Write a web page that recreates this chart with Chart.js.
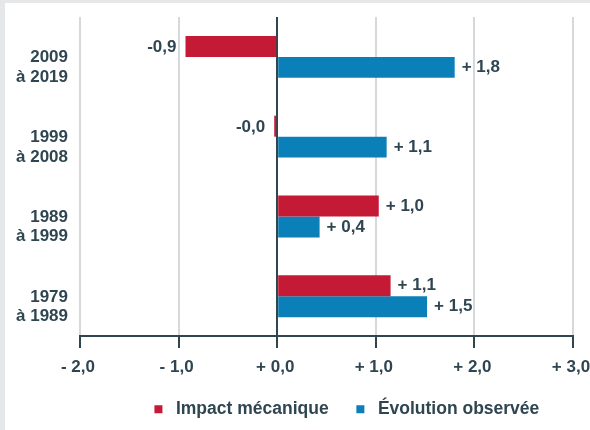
<!DOCTYPE html>
<html>
<head>
<meta charset="utf-8">
<script src="https://cdn.jsdelivr.net/npm/chart.js@4"></script>
<style>
  body { margin: 0; background: #e6e7e9; }
  #wrap { position: absolute; left: 5px; top: 3px; width: 585px; height: 427px; background: #fff; }
</style>
</head>
<body>
<div id="wrap"><canvas id="chart"></canvas></div>
<script>
// Categories, top to bottom
const periods = [['2009', 'à 2019'], ['1999', 'à 2008'], ['1989', 'à 1999'], ['1979', 'à 1989']]
// Series values
const impactMecanique = [-0.93, -0.03, 1.03, 1.15]
const evolutionObservee = [1.80, 1.11, 0.43, 1.52]
// Axis tick labels
const xTickLabels = ['- 2,0', '- 1,0', '+ 0,0', '+ 1,0', '+ 2,0', '+ 3,0']

const dark = '#2f4651'
const red = '#c51a36'
const blue = '#0a7fb8'
const fontFamily = "'Liberation Sans', Arial, sans-serif"

// formats a value like the labels on the bars
function fmt(v) {
  const s = Math.abs(v).toFixed(1).replace('.', ',')
  return v < 0 ? '-' + s : '+ ' + s
}

// writes the value next to the end of each bar
const barLabels = {
  id: 'barLabels',
  afterDatasetsDraw(chart) {
    const ctx = chart.ctx
    ctx.save()
    ctx.font = 'bold 17px ' + fontFamily
    ctx.fillStyle = dark
    ctx.textBaseline = 'middle'
    chart.data.datasets.forEach((ds, i) => {
      chart.getDatasetMeta(i).data.forEach((bar, j) => {
        const v = ds.data[j]
        if (v < 0) {
          ctx.textAlign = 'right'
          ctx.fillText(fmt(v), bar.x - 9, bar.y + 1)
        } else {
          ctx.textAlign = 'left'
          ctx.fillText(fmt(v), bar.x + 7, bar.y)
        }
      })
    })
    ctx.restore()
  }
}

// legend sits a bit right of the canvas centre in the original
const legendShift = {
  id: 'legendShift',
  afterLayout(chart) {
    chart.legend.left += 50
    chart.legend.right += 50
  }
}

// no automatic edge padding, and tick padding counted once
function fitX(scale) {
  scale.paddingLeft = 0
  scale.paddingRight = 0
  scale.height -= scale.options.ticks.padding
}
function fitY(scale) {
  scale.paddingTop = 0
  scale.paddingBottom = 0
  scale.width -= scale.options.ticks.padding
}

new Chart(document.getElementById('chart'), {
  type: 'bar',
  data: {
    labels: periods,
    datasets: [
      { label: 'Impact mécanique', data: impactMecanique, backgroundColor: red },
      { label: 'Évolution observée', data: evolutionObservee, backgroundColor: blue }
    ]
  },
  options: {
    indexAxis: 'y',
    responsive: true,
    maintainAspectRatio: false,
    animation: false,
    categoryPercentage: 0.525,
    barPercentage: 1.0,
    layout: { padding: { left: 11, top: 14, right: 17, bottom: 2 } },
    scales: {
      x: {
        min: -2,
        max: 3,
        afterFit: fitX,
        ticks: {
          stepSize: 1,
          padding: 9,
          labelOffset: -2,
          color: dark,
          font: { family: fontFamily, size: 17, weight: 'bold' },
          callback: (v, i) => xTickLabels[i]
        },
        grid: {
          color: c => (c.tick && c.tick.value === 0) ? dark : '#d5d9dc',
          lineWidth: 2,
          tickColor: dark,
          tickLength: 12,
          tickWidth: 2
        },
        border: { color: dark, width: 2 }
      },
      y: {
        afterFit: fitY,
        grid: { display: false, drawTicks: false },
        border: { display: false },
        ticks: {
          padding: 12,
          labelOffset: 10.5,
          color: dark,
          font: { family: fontFamily, size: 17, weight: 'bold', lineHeight: 1.15 }
        }
      }
    },
    plugins: {
      legend: {
        position: 'bottom',
        labels: {
          usePointStyle: true,
          pointStyle: 'rect',
          boxWidth: 20,
          boxHeight: 8,
          padding: 23,
          color: dark,
          font: { family: fontFamily, size: 17.5, weight: 'bold' }
        }
      },
      tooltip: { enabled: false }
    }
  },
  plugins: [barLabels, legendShift]
})
</script>
</body>
</html>
